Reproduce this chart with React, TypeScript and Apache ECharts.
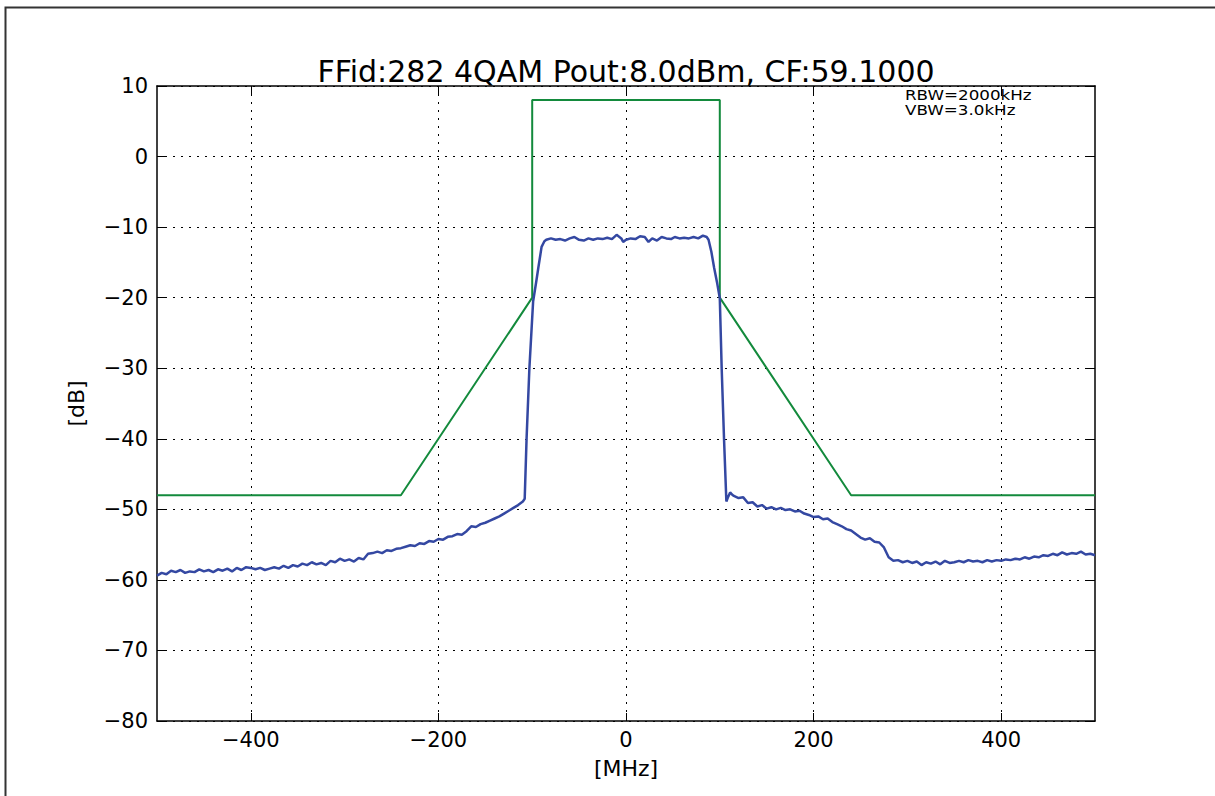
import React, { useEffect, useRef } from "react";
import * as echarts from "echarts";

const TITLE = "FFid:282 4QAM Pout:8.0dBm, CF:59.1000";
const NOTE_LINES = ["RBW=2000kHz", "VBW=3.0kHz"];
const X_LABEL = "[MHz]";
const Y_LABEL = "[dB]";
const X_TICKS = [-400, -200, 0, 200, 400];

const maskMHz = [-500, -240, -100, -100, 100, 100, 240, 500];
const maskDb = [-48, -48, -20, 8, 8, -20, -48, -48];

const lowerSkirtMHz = [
  -500, -495, -490, -485, -480, -475, -470, -465, -460, -455, -450, -445, -440, -435, -430, -425,
  -420, -415, -410, -405, -400, -395, -390, -385, -380, -375, -370, -365, -360, -355, -350, -345,
  -340, -335, -330, -325, -320, -315, -310, -305, -300, -295, -290, -285, -280, -275, -270, -265,
  -260, -255, -250, -245, -240, -235, -230, -225, -220, -215, -210, -205, -200, -195, -190, -185,
  -180, -175, -170, -165, -160, -155, -150, -145, -140, -135, -130, -125, -120, -115, -110,
];
const lowerSkirtDb = [
  -59.4, -59.0, -59.2, -58.7, -58.9, -58.6, -59.0, -58.8, -58.9, -58.5, -58.8, -58.6, -58.9, -58.5, -58.7, -58.4,
  -58.8, -58.3, -58.6, -58.2, -58.3, -58.5, -58.3, -58.6, -58.4, -58.2, -58.4, -58.0, -58.3, -57.9, -58.1, -57.7,
  -57.9, -57.5, -57.8, -57.6, -57.9, -57.3, -57.5, -57.0, -57.3, -57.1, -57.4, -56.9, -57.1, -56.3, -56.2, -56.0,
  -56.2, -55.8, -55.9, -55.6, -55.5, -55.3, -55.1, -55.2, -54.8, -54.9, -54.5, -54.6, -54.2, -54.3, -53.9, -53.8,
  -53.5, -53.6, -53.1, -52.4, -52.5, -52.1, -51.9, -51.6, -51.3, -51.0, -50.6, -50.2, -49.8, -49.4, -48.9,
];

const passbandMHz = [
  -108, -106, -103, -99, -96, -93.5, -90, -87,
  -85, -80, -75, -70, -65, -60, -55, -50, -45, -40, -35, -30, -25, -20, -15, -10, -5, -3,
  0, 5, 10, 15, 20, 24, 28, 33, 38, 43, 48, 52, 57, 62, 67, 72, 77, 82, 86, 88,
  91, 94, 97, 100, 102, 104.5, 107, 109, 111, 113,
];
const passbandDb = [
  -48.5, -40, -30, -20.5, -18, -15.8, -12.8, -12.0,
  -11.8, -11.6, -11.8, -11.7, -11.9, -11.6, -11.4, -11.8, -11.9, -11.6, -11.8, -11.6, -11.7, -11.5, -11.7, -11.1, -11.6, -12.1,
  -11.8, -11.6, -11.7, -11.3, -11.4, -12.1, -11.6, -11.9, -11.4, -11.6, -11.7, -11.4, -11.6, -11.5, -11.6, -11.4, -11.6, -11.2, -11.4, -11.8,
  -13.5, -15.8, -17.8, -20.1, -30, -40, -48.9, -48.2, -47.6, -47.9,
];

const upperSkirtMHz = [
  115, 120, 125, 130, 135, 140, 145, 150, 155, 160, 165, 170, 175, 180, 185, 190,
  195, 200, 205, 210, 215, 220, 225, 230, 235, 240, 245, 250, 255, 260, 265, 270,
  275, 280, 285, 290, 295, 300, 305, 310, 315, 320, 325, 330, 335, 340, 345, 350,
  355, 360, 365, 370, 375, 380, 385, 390, 395, 400, 405, 410, 415, 420, 425, 430,
  435, 440, 445, 450, 455, 460, 465, 470, 475, 480, 485, 490, 495, 500,
];
const upperSkirtDb = [
  -48.1, -48.4, -48.3, -49.1, -49.0, -49.6, -49.4, -49.9, -49.7, -50.0, -49.8, -50.1, -50.0, -50.3, -50.2, -50.6,
  -50.8, -51.1, -51.0, -51.4, -51.3, -51.8, -52.1, -52.4, -52.8, -53.0, -53.5, -54.0, -54.3, -54.1, -54.6, -54.7,
  -55.4, -56.8, -57.3, -57.2, -57.5, -57.3, -57.6, -57.4, -57.9, -57.5, -57.7, -57.4, -57.8, -57.3, -57.6, -57.5,
  -57.3, -57.5, -57.2, -57.4, -57.3, -57.5, -57.2, -57.4, -57.2, -57.3, -57.1, -57.2, -57.0, -57.1, -56.8, -57.0,
  -56.7, -56.8, -56.5, -56.6, -56.3, -56.5, -56.1, -56.4, -56.2, -56.3, -56.0, -56.4, -56.3, -56.5,
];

const FONT = "DejaVu Sans";
const fmt = (v: number) => (v < 0 ? "\u2212" + Math.abs(v) : String(v));

export default function App() {
  const ref = useRef<HTMLDivElement>(null);
  useEffect(() => {
    if (!ref.current) return;
    const chart = echarts.init(ref.current, undefined, { renderer: "svg" });
    const mask = maskMHz.map((x, i) => [x, maskDb[i]]);
    const freqs = [...lowerSkirtMHz, ...passbandMHz, ...upperSkirtMHz];
    const levels = [...lowerSkirtDb, ...passbandDb, ...upperSkirtDb];
    const spectrum = freqs.map((x, i) => [x, levels[i]]);
    const frame = { show: true, onZero: false, lineStyle: { color: "#000", width: 1.5 } };
    const tick = { show: true, inside: true, length: 8, lineStyle: { color: "#000", width: 1 } };
    const grid = { show: true, lineStyle: { color: "#000", width: 1, type: [2, 6] as any } };
    const option: any = {
      animation: false,
      backgroundColor: "#fff",
      grid: { left: 157, top: 86, right: 120, bottom: 75 },
      xAxis: [
        {
          type: "value", min: -500, max: 500, interval: 100, position: "bottom",
          axisLine: frame,
          axisTick: { ...tick, customValues: X_TICKS },
          axisLabel: { customValues: X_TICKS, formatter: fmt, fontSize: 21, fontFamily: FONT, color: "#000", margin: 8 },
          splitLine: { ...grid, customValues: X_TICKS },
          name: X_LABEL, nameLocation: "middle", nameGap: 36,
          nameTextStyle: { fontSize: 22, fontFamily: FONT, color: "#000" },
        },
        {
          type: "value", min: -500, max: 500, interval: 100, position: "top",
          axisLine: frame,
          axisTick: { ...tick, customValues: X_TICKS },
          axisLabel: { show: false },
          splitLine: { show: false },
        },
      ],
      yAxis: [
        {
          type: "value", min: -80, max: 10, interval: 10, position: "left",
          axisLine: frame, axisTick: tick,
          axisLabel: { formatter: fmt, fontSize: 21, fontFamily: FONT, color: "#000", margin: 9 },
          splitLine: grid,
          name: Y_LABEL, nameLocation: "middle", nameGap: 70, nameRotate: 90,
          nameTextStyle: { fontSize: 22, fontFamily: FONT, color: "#000" },
        },
        {
          type: "value", min: -80, max: 10, interval: 10, position: "right",
          axisLine: frame, axisTick: tick,
          axisLabel: { show: false }, splitLine: { show: false },
        },
      ],
      series: [
        {
          type: "line", data: mask, symbol: "none", z: 3,
          lineStyle: { color: "#138a3c", width: 2 },
        },
        {
          type: "line", data: spectrum, symbol: "none", z: 4,
          lineStyle: { color: "#3448a2", width: 2.5 },
        },
      ],
      graphic: [
        {
          type: "rect", z: -10, silent: true,
          shape: { x: 5.5, y: 7.5, width: 1400, height: 1000 },
          style: { fill: "none", stroke: "#333", lineWidth: 2 },
        },
        {
          type: "text", z: 10,
          style: { text: TITLE, x: 626, y: 71, textAlign: "center", textVerticalAlign: "middle", fontSize: 30, fontFamily: FONT, fill: "#000" },
        },
        ...NOTE_LINES.map((t, i) => ({
          type: "text", z: 10, x: 905, y: 96 + i * 15, scaleX: 1.24,
          style: { text: t, x: 0, y: 0, textAlign: "left", textVerticalAlign: "middle", fontSize: 13.5, fontFamily: FONT, fill: "#000" },
        })),
      ],
    };
    chart.setOption(option);
    return () => chart.dispose();
  }, []);
  return <div ref={ref} style={{ position: "fixed", left: 0, top: 0, width: 1215, height: 796 }} />;
}
